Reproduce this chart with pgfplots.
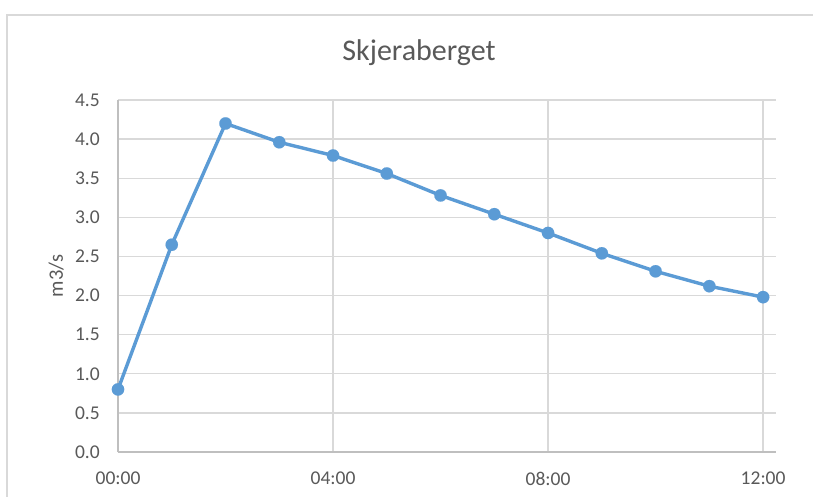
\documentclass[border=0pt]{standalone}
\usepackage{pgfplots}
\pgfplotsset{compat=1.18}
\usepackage{fontspec}
\setmainfont{Carlito}
\definecolor{linec}{HTML}{5B9BD5}
\definecolor{gridc}{HTML}{D9D9D9}
\definecolor{axisc}{HTML}{BFBFBF}
\definecolor{textc}{HTML}{595959}
\begin{document}
\begin{tikzpicture}
\useasboundingbox (-118pt,-44pt) rectangle (695pt,452pt);
\clip (-118pt,-44pt) rectangle (695pt,452pt);
\fill[white] (-118pt,-44pt) rectangle (695pt,452pt);
\draw[gridc, line width=1.3pt] (-111pt,-100pt) -- (-111pt,437pt) -- (800pt,437pt);
\begin{axis}[
  at={(0pt,0pt)}, anchor=south west,
  scale only axis, width=658pt, height=352pt,
  xmin=0, xmax=12.24, ymin=0, ymax=4.5,
  axis x line*=bottom, axis y line*=left,
  axis line style={-, axisc, line width=1.4pt},
  grid=major, major grid style={gridc, line width=1.3pt},
  major tick length=0pt,
  xtick={0,4,8,12}, xticklabels={00:00,04:00,08:00,12:00},
  ytick={0,0.5,1,1.5,2,2.5,3,3.5,4,4.5},
  yticklabels={0.0,0.5,1.0,1.5,2.0,2.5,3.0,3.5,4.0,4.5},
  ticklabel style={font=\fontsize{19.5}{20}\selectfont, text=textc},
  yticklabel style={anchor=east, inner sep=0pt, xshift=-18pt},
  xticklabel style={anchor=north, inner sep=0pt, yshift=-20pt},
  ylabel={m3/s},
  ylabel style={at={(axis description cs:-0.094,0.5)}, anchor=center, font=\fontsize{20.5}{21}\selectfont, text=textc},
  title={Skjeraberget},
  title style={at={(axis description cs:0.5,1)}, anchor=base, yshift=34pt, xshift=-28pt, font=\fontsize{30}{32}\selectfont, text=textc},
  clip=false,
]
\addplot[linec, line width=3.4pt, mark=*, mark size=6.2pt, mark options={fill=linec, draw=linec, line width=0.1pt}]
coordinates {
(0,0.80) (1,2.65) (2,4.20) (3,3.96) (4,3.79) (5,3.56) (6,3.28)
(7,3.04) (8,2.80) (9,2.54) (10,2.31) (11,2.12) (12,1.98)
};
\end{axis}
\end{tikzpicture}
\end{document}
